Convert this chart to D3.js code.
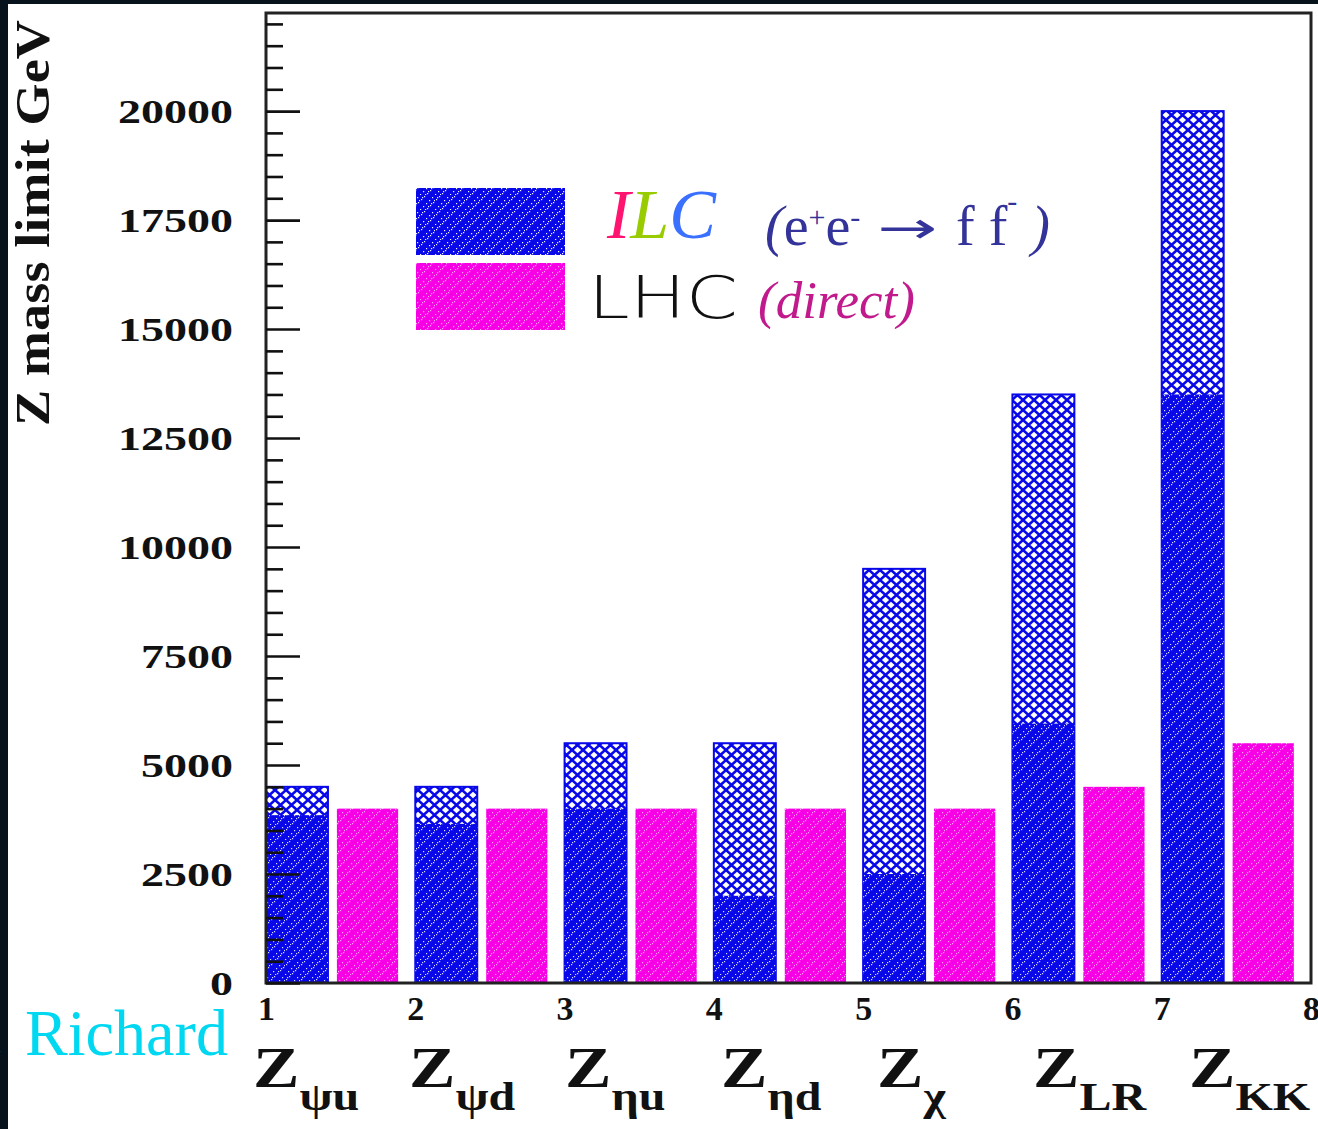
<!DOCTYPE html>
<html><head><meta charset="utf-8">
<script src="https://cdn.jsdelivr.net/npm/d3@7"></script>
<style>html,body{margin:0;padding:0;background:#fff;overflow:hidden}</style>
</head><body>
<script>
// ---- data ----
const binStarts   = [1, 2, 3, 4, 5, 6, 7];
const modelSubs   = ["ψu", "ψd", "ηu", "ηd", "χ", "LR", "KK"];
const ilcLimit    = [4500, 4500, 5500, 5500, 9500, 13500, 20000];
const ilcBase     = [3850, 3650, 4000, 2000, 2500, 5950, 13500];
const lhcLimit    = [4000, 4000, 4000, 4000, 4000, 4500, 5500];
const xTickValues = [1, 2, 3, 4, 5, 6, 7, 8];
const yTickValues = [0, 2500, 5000, 7500, 10000, 12500, 15000, 17500, 20000];
const yMinorStep  = 500;
const yTitle      = "Z mass limit GeV";

const W = 1318, H = 1129;
const svg = d3.select("body").append("svg").attr("width", W).attr("height", H);
const defs = svg.append("defs");

const BLUE = "#0808e8", PINK = "#f800e6";

// patterns: sparse white dots along diagonal stripes
function dotPattern(id, base, dotColor, op) {
  const p = defs.append("pattern").attr("id", id).attr("patternUnits", "userSpaceOnUse")
    .attr("width", 15).attr("height", 15);
  p.append("rect").attr("width", 15).attr("height", 15).attr("fill", base);
  const pts = [];
  for (let k = 0; k < 5; k++) {
    pts.push([3 * k, 14 - 3 * k]);
    pts.push([(3 * k + 5) % 15, (14 - 3 * k + 15) % 15]);
    pts.push([(3 * k + 7) % 15, (13 - 3 * k + 15) % 15]);
  }
  pts.forEach(([a, b]) => p.append("rect").attr("x", a).attr("y", b).attr("width", 1.2).attr("height", 1.2)
    .attr("fill", dotColor).attr("opacity", op));
}
dotPattern("ilcLow", BLUE, "#ffffff", 0.85);
dotPattern("lhcPat", PINK, "#ffd8f8", 0.75);
dotPattern("ilcLeg", BLUE, "#ffffff", 0.95);
{
  const p = defs.append("pattern").attr("id", "cross").attr("patternUnits", "userSpaceOnUse")
    .attr("width", 11).attr("height", 10);
  p.append("rect").attr("width", 11).attr("height", 10).attr("fill", "#ffffff");
  p.append("path").attr("d", "M-1.1,-1 L12.1,11 M12.1,-1 L-1.1,11")
    .attr("stroke", BLUE).attr("stroke-width", 2.6).attr("fill", "none");
}

// background strips
svg.append("rect").attr("x", 0).attr("y", 0).attr("width", W).attr("height", 4).attr("fill", "#06121c");
svg.append("rect").attr("x", 0).attr("y", 0).attr("width", 8).attr("height", H).attr("fill", "#06121c");

// scales
const x = d3.scaleLinear().domain([1, 8]).range([266, 1311]);
const y = d3.scaleLinear().domain([0, 22250]).range([983, 13]);
const ilcOff = [0.0, 0.415], lhcOff = [0.475, 0.885];

const bars = svg.append("g");
binStarts.forEach((b, i) => {
  const x0 = x(b + ilcOff[0]), x1 = x(b + ilcOff[1]);
  bars.append("rect").attr("x", x0).attr("y", y(ilcLimit[i])).attr("width", x1 - x0)
    .attr("height", y(0) - y(ilcLimit[i])).attr("fill", "url(#cross)")
    .attr("stroke", BLUE).attr("stroke-width", 2);
  bars.append("rect").attr("x", x0).attr("y", y(ilcBase[i])).attr("width", x1 - x0)
    .attr("height", y(0) - y(ilcBase[i])).attr("fill", "url(#ilcLow)");
  const l0 = x(b + lhcOff[0]), l1 = x(b + lhcOff[1]);
  bars.append("rect").attr("x", l0).attr("y", y(lhcLimit[i])).attr("width", l1 - l0)
    .attr("height", y(0) - y(lhcLimit[i])).attr("fill", "url(#lhcPat)");
});

// frame
svg.append("rect").attr("x", x(1)).attr("y", y(22250)).attr("width", x(8) - x(1))
  .attr("height", y(0) - y(22250)).attr("fill", "none").attr("stroke", "#222").attr("stroke-width", 3);

// y ticks
const minor = d3.range(0, 22250, yMinorStep).filter(v => v % 2500 !== 0);
const gMinor = svg.append("g").attr("transform", `translate(${x(1)},0)`)
  .call(d3.axisRight(y).tickValues(minor).tickSize(17).tickFormat(""));
const gMajor = svg.append("g").attr("transform", `translate(${x(1)},0)`)
  .call(d3.axisRight(y).tickValues(yTickValues).tickSize(34).tickFormat(""));
[gMinor, gMajor].forEach(g => {
  g.select(".domain").remove();
  g.selectAll("line").attr("stroke", "#111").attr("stroke-width", 2.6);
});

// y tick labels
const serif = "'Liberation Serif','Times New Roman',serif";
svg.append("g").selectAll("text").data(yTickValues).join("text")
  .attr("x", 233).attr("y", d => y(d) + 11.5)
  .attr("text-anchor", "end")
  .attr("font-family", serif).attr("font-weight", "bold").attr("font-size", 34)
  .attr("textLength", d => String(d).length * 23).attr("lengthAdjust", "spacingAndGlyphs")
  .attr("fill", "#111").text(d => d);

// x tick labels
svg.append("g").selectAll("text").data(xTickValues).join("text")
  .attr("x", d => x(d) - 8).attr("y", 1020)
  .attr("font-family", serif).attr("font-weight", "bold").attr("font-size", 34)
  .attr("textLength", 17).attr("lengthAdjust", "spacingAndGlyphs")
  .attr("fill", "#111").text(d => d);

// category labels
const catX = d3.scaleLinear().domain([0, modelSubs.length - 1]).range([253, 1189]);
modelSubs.forEach((s, i) => {
  const t = svg.append("text").attr("transform", `translate(${catX(i)},1087) scale(1.2,1)`)
    .attr("font-family", serif).attr("font-weight", "bold").attr("fill", "#111");
  t.append("tspan").attr("font-size", 58).text("Z");
  t.append("tspan").attr("font-size", 40).attr("dy", 23).text(s);
});

// y title
svg.append("text").attr("transform", "translate(49,223) rotate(-90)")
  .attr("text-anchor", "middle").attr("font-family", serif).attr("font-weight", "bold")
  .attr("font-size", 48).attr("textLength", 406).attr("lengthAdjust", "spacingAndGlyphs")
  .attr("fill", "#111").text(yTitle);

// legend
svg.append("rect").attr("x", 416).attr("y", 188).attr("width", 149).attr("height", 67).attr("fill", "url(#ilcLeg)");
svg.append("rect").attr("x", 416).attr("y", 263).attr("width", 149).attr("height", 67).attr("fill", "url(#lhcPat)");
const ilc = svg.append("text").attr("x", 607).attr("y", 238).attr("font-family", serif)
  .attr("font-style", "italic").attr("font-size", 70);
ilc.append("tspan").attr("fill", "#ff1470").text("I");
ilc.append("tspan").attr("fill", "#99cc00").text("L");
ilc.append("tspan").attr("fill", "#3a70ff").text("C");

const PROC = "#33339a";
const p1 = svg.append("text").attr("x", 765).attr("y", 245).attr("font-family", serif)
  .attr("font-size", 56).attr("fill", PROC);
p1.append("tspan").attr("font-style", "italic").text("(");
p1.append("tspan").text("e");
p1.append("tspan").attr("font-size", 30).attr("dy", -18).text("+");
p1.append("tspan").attr("dy", 18).text("e");
p1.append("tspan").attr("font-size", 30).attr("dy", -18).text("-");
svg.append("text").attr("x", 877).attr("y", 243).attr("font-family", "'DejaVu Sans',sans-serif")
  .attr("font-size", 44).attr("textLength", 60).attr("lengthAdjust", "spacingAndGlyphs")
  .attr("fill", PROC).text("→");
const p2 = svg.append("text").attr("x", 956).attr("y", 245).attr("font-family", serif)
  .attr("font-size", 56).attr("fill", PROC);
p2.append("tspan").text("f f");
p2.append("tspan").attr("font-size", 30).attr("dy", -34).text("-");
p2.append("tspan").attr("font-style", "italic").attr("dy", 34).text(" )");

svg.append("text").attr("x", 588).attr("y", 318).attr("font-family", "'DejaVu Sans',sans-serif")
  .attr("font-weight", 200).attr("font-size", 58).attr("textLength", 150)
  .attr("lengthAdjust", "spacingAndGlyphs").attr("fill", "#111").text("LHC");
svg.append("text").attr("x", 758).attr("y", 318).attr("font-family", serif)
  .attr("font-style", "italic").attr("font-size", 52).attr("textLength", 157)
  .attr("lengthAdjust", "spacingAndGlyphs").attr("fill", "#c01a8c").text("(direct)");

// author
svg.append("text").attr("x", 25).attr("y", 1055).attr("font-family", serif)
  .attr("font-size", 66).attr("textLength", 203).attr("lengthAdjust", "spacingAndGlyphs")
  .attr("fill", "#00d8f2").text("Richard");
svg.append("text").attr("x", -12).attr("y", 1055).attr("font-family", serif)
  .attr("font-size", 66).attr("fill", "#00d8f2").text(".");
</script>
</body></html>
